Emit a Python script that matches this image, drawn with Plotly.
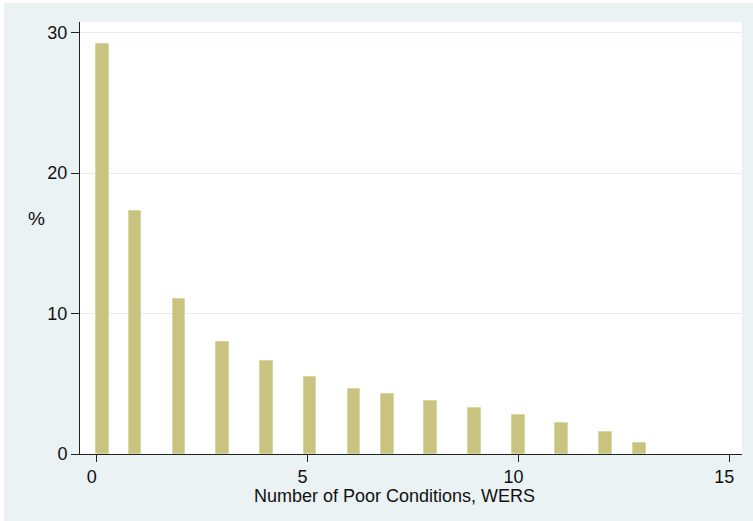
import plotly.graph_objects as go

# Share of workplaces by number of poor conditions (WERS)
bar_x = [0.13, 0.91, 1.95, 2.99, 4.03, 5.06, 6.10, 6.90, 7.91, 8.96, 10.0, 11.02, 12.06, 12.87]
percent = [29.2, 17.3, 11.0, 7.95, 6.6, 5.5, 4.65, 4.25, 3.75, 3.25, 2.8, 2.2, 1.6, 0.75]

x_ticks = [0, 5, 10, 15]
y_ticks = [0, 10, 20, 30]
x_title = "Number of Poor Conditions, WERS"
y_title = "%"

W, H = 753, 521
L, R, T, B = 80, 11, 22, 67
pw, ph = W - L - R, H - T - B

def px_to_paper_x(px):
    return (px - L) / pw

def px_to_paper_y(py):
    return (H - B - py) / ph

font = dict(family="Liberation Sans, Arial, sans-serif", size=18, color="#111111")

fig = go.Figure(
    go.Bar(
        x=bar_x,
        y=percent,
        width=0.3,
        marker=dict(color="#C9C380", line=dict(color="#DAD6A4", width=1)),
        hoverinfo="x+y",
    )
)

fig.update_layout(
    width=W,
    height=H,
    margin=dict(l=L, r=R, t=T, b=B),
    paper_bgcolor="white",
    plot_bgcolor="white",
    showlegend=False,
    font=font,
    bargap=0,
    shapes=[
        # graph region background
        dict(type="rect", xref="paper", yref="paper", layer="below",
             x0=px_to_paper_x(4), x1=px_to_paper_x(W + 2),
             y0=px_to_paper_y(H + 2), y1=px_to_paper_y(3),
             fillcolor="#EAF2F3", line=dict(width=0)),
        # plot region
        dict(type="rect", xref="paper", yref="paper", layer="below",
             x0=0, x1=1, y0=0, y1=1,
             fillcolor="white", line=dict(width=0)),
    ],
    annotations=[
        dict(text=y_title, xref="paper", yref="paper",
             x=px_to_paper_x(36), y=px_to_paper_y(218),
             xanchor="center", yanchor="middle", showarrow=False,
             font=dict(size=19)),
        dict(text=x_title, xref="paper", yref="paper",
             x=px_to_paper_x(394), y=px_to_paper_y(496),
             xanchor="center", yanchor="middle", showarrow=False,
             font=dict(size=18)),
    ],
)

fig.update_xaxes(
    range=[-0.396, 15.30],
    tickmode="array",
    tickvals=x_ticks,
    ticktext=[str(v) for v in x_ticks],
    ticks="outside",
    ticklen=7,
    tickwidth=1,
    tickcolor="#222222",
    ticklabelshift=-5,
    ticklabelstandoff=-1,
    showline=True,
    linecolor="#222222",
    linewidth=1,
    showgrid=False,
    zeroline=False,
    fixedrange=True,
)

fig.update_yaxes(
    range=[0, 30.75],
    tickmode="array",
    tickvals=y_ticks,
    ticktext=[str(v) for v in y_ticks],
    ticks="outside",
    ticklen=8,
    tickwidth=1,
    tickcolor="#222222",
    showline=True,
    linecolor="#222222",
    linewidth=1,
    showgrid=True,
    gridcolor="#E3ECEF",
    gridwidth=1,
    zeroline=False,
    fixedrange=True,
)

fig.write_html("out.html")
